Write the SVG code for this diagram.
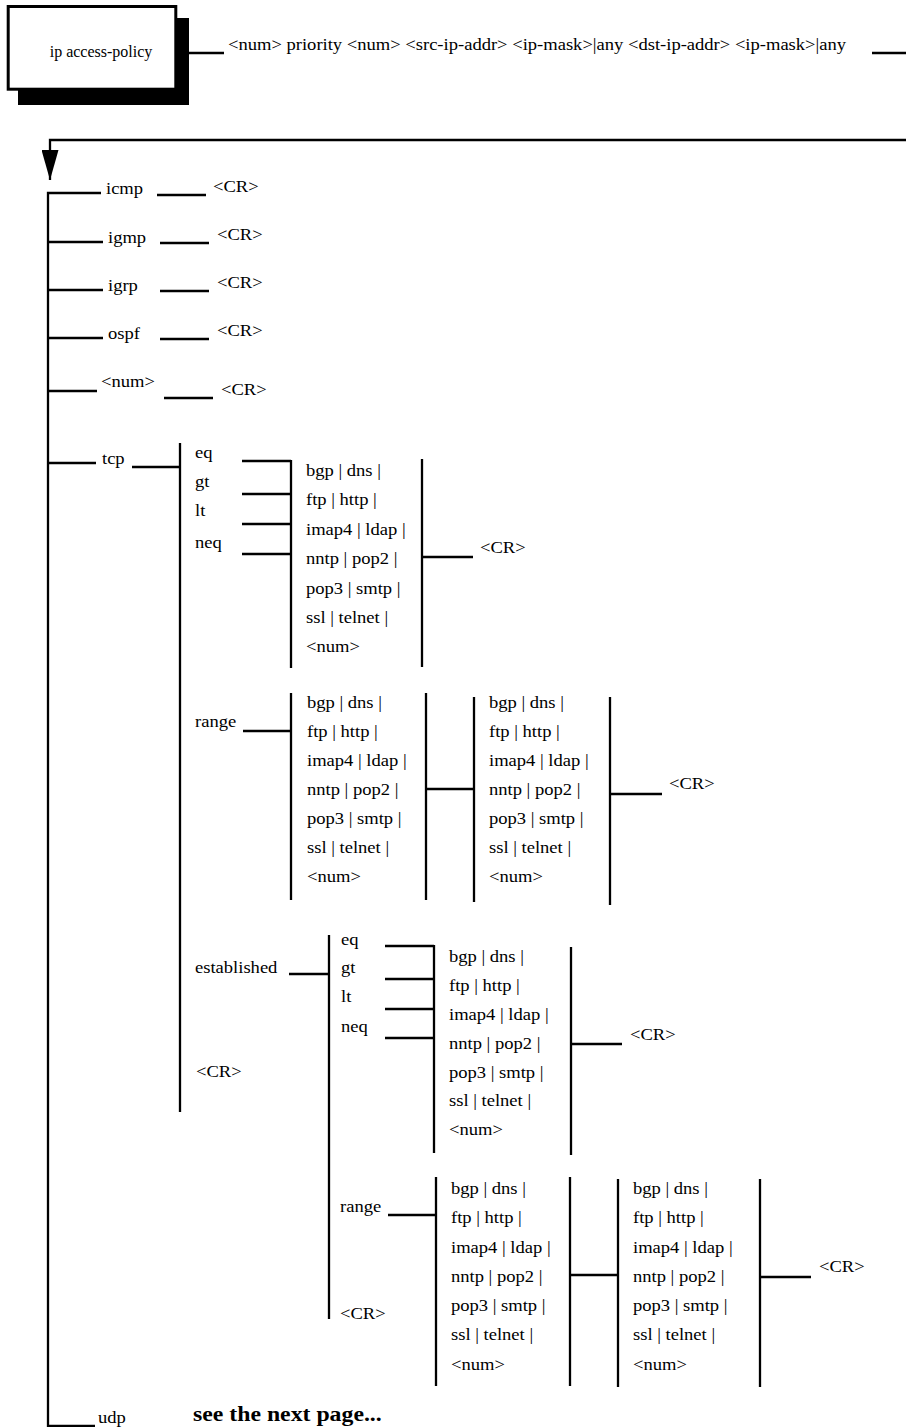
<svg xmlns="http://www.w3.org/2000/svg" width="906" height="1427" viewBox="0 0 906 1427">
<style>
text { font-family: "Liberation Serif", "Times New Roman", serif; font-size: 16px; fill: #000; }
.s { transform-box: fill-box; transform-origin: 0% 50%; transform: scaleX(1.16); }
.b { font-weight: bold; font-size: 20.5px; }
.c line, .c polyline { stroke: #000; stroke-width: 2.3; fill: none; }
</style>
<defs>
<marker id="arr" markerUnits="userSpaceOnUse" viewBox="0 0 30 17" markerWidth="30" markerHeight="17" refX="30" refY="8.5" orient="auto">
<path d="M0,0 L30,8.5 L0,17 z" fill="#000"/>
</marker>
</defs>
<rect width="906" height="1427" fill="#fff"/>

<g id="node-ip-access-policy">
<rect x="18" y="18" width="171" height="87" fill="#000"/>
<rect x="8.2" y="6.5" width="167.6" height="82.7" fill="#fff" stroke="#000" stroke-width="3"/>
<text x="101" y="57" text-anchor="middle">ip access-policy</text>
</g>

<g id="node-args"><text class="s" x="228" y="50">&lt;num&gt; priority &lt;num&gt; &lt;src-ip-addr&gt; &lt;ip-mask&gt;|any &lt;dst-ip-addr&gt; &lt;ip-mask&gt;|any</text></g>

<g id="node-icmp"><text class="s" x="106" y="194">icmp</text><text class="s" x="213" y="192">&lt;CR&gt;</text></g>
<g id="node-igmp"><text class="s" x="108" y="243">igmp</text><text class="s" x="217" y="240">&lt;CR&gt;</text></g>
<g id="node-igrp"><text class="s" x="108" y="291">igrp</text><text class="s" x="217" y="288.5">&lt;CR&gt;</text></g>
<g id="node-ospf"><text class="s" x="108" y="339">ospf</text><text class="s" x="217" y="336.5">&lt;CR&gt;</text></g>
<g id="node-num"><text class="s" x="101" y="387">&lt;num&gt;</text><text class="s" x="221" y="395">&lt;CR&gt;</text></g>

<g id="node-tcp"><text class="s" x="102" y="464">tcp</text></g>
<g id="node-tcp-ops">
<text class="s" x="195" y="458">eq</text>
<text class="s" x="195" y="487">gt</text>
<text class="s" x="195" y="516">lt</text>
<text class="s" x="195" y="548">neq</text>
</g>
<g id="node-tcp-ports">
<text class="s" x="306" y="476">bgp | dns |</text>
<text class="s" x="306" y="505.4">ftp | http |</text>
<text class="s" x="306" y="534.8">imap4 | ldap |</text>
<text class="s" x="306" y="564.2">nntp | pop2 |</text>
<text class="s" x="306" y="593.6">pop3 | smtp |</text>
<text class="s" x="306" y="623">ssl | telnet |</text>
<text class="s" x="306" y="652.4">&lt;num&gt;</text>
</g>
<g id="node-tcp-cr"><text class="s" x="480" y="553">&lt;CR&gt;</text></g>

<g id="node-range"><text class="s" x="195" y="727">range</text></g>
<g id="node-range-from">
<text class="s" x="307" y="708">bgp | dns |</text>
<text class="s" x="307" y="737">ftp | http |</text>
<text class="s" x="307" y="766">imap4 | ldap |</text>
<text class="s" x="307" y="795">nntp | pop2 |</text>
<text class="s" x="307" y="824">pop3 | smtp |</text>
<text class="s" x="307" y="853">ssl | telnet |</text>
<text class="s" x="307" y="882">&lt;num&gt;</text>
</g>
<g id="node-range-to">
<text class="s" x="489" y="708">bgp | dns |</text>
<text class="s" x="489" y="737">ftp | http |</text>
<text class="s" x="489" y="766">imap4 | ldap |</text>
<text class="s" x="489" y="795">nntp | pop2 |</text>
<text class="s" x="489" y="824">pop3 | smtp |</text>
<text class="s" x="489" y="853">ssl | telnet |</text>
<text class="s" x="489" y="882">&lt;num&gt;</text>
</g>
<g id="node-range-cr"><text class="s" x="669" y="789">&lt;CR&gt;</text></g>

<g id="node-established"><text class="s" x="195" y="973">established</text></g>
<g id="node-tcp-cr2"><text class="s" x="196" y="1077">&lt;CR&gt;</text></g>
<g id="node-est-ops">
<text class="s" x="341" y="945">eq</text>
<text class="s" x="341" y="973">gt</text>
<text class="s" x="341" y="1002">lt</text>
<text class="s" x="341" y="1032">neq</text>
</g>
<g id="node-est-ports">
<text class="s" x="449" y="962">bgp | dns |</text>
<text class="s" x="449" y="990.9">ftp | http |</text>
<text class="s" x="449" y="1019.8">imap4 | ldap |</text>
<text class="s" x="449" y="1048.7">nntp | pop2 |</text>
<text class="s" x="449" y="1077.6">pop3 | smtp |</text>
<text class="s" x="449" y="1106.5">ssl | telnet |</text>
<text class="s" x="449" y="1135.4">&lt;num&gt;</text>
</g>
<g id="node-est-cr"><text class="s" x="630" y="1040">&lt;CR&gt;</text></g>

<g id="node-est-range"><text class="s" x="340" y="1212">range</text></g>
<g id="node-est-cr2"><text class="s" x="340" y="1319">&lt;CR&gt;</text></g>
<g id="node-est-range-from">
<text class="s" x="451" y="1194">bgp | dns |</text>
<text class="s" x="451" y="1223.3">ftp | http |</text>
<text class="s" x="451" y="1252.6">imap4 | ldap |</text>
<text class="s" x="451" y="1281.9">nntp | pop2 |</text>
<text class="s" x="451" y="1311.2">pop3 | smtp |</text>
<text class="s" x="451" y="1340.5">ssl | telnet |</text>
<text class="s" x="451" y="1369.8">&lt;num&gt;</text>
</g>
<g id="node-est-range-to">
<text class="s" x="633" y="1194">bgp | dns |</text>
<text class="s" x="633" y="1223.3">ftp | http |</text>
<text class="s" x="633" y="1252.6">imap4 | ldap |</text>
<text class="s" x="633" y="1281.9">nntp | pop2 |</text>
<text class="s" x="633" y="1311.2">pop3 | smtp |</text>
<text class="s" x="633" y="1340.5">ssl | telnet |</text>
<text class="s" x="633" y="1369.8">&lt;num&gt;</text>
</g>
<g id="node-est-range-cr"><text class="s" x="819" y="1272">&lt;CR&gt;</text></g>

<g id="node-udp"><text class="s" x="98" y="1423">udp</text></g>
<g id="node-note"><text class="s b" x="193" y="1421">see the next page...</text></g>

<g id="connectors" class="c">
<line x1="189" y1="53" x2="224" y2="53"/>
<line x1="872" y1="53" x2="906" y2="53"/>
<polyline points="906,140 50,140 50,180" marker-end="url(#arr)"/>
<polyline points="101,193 48,193 48,1426 95,1426"/>
<line x1="157" y1="195" x2="206" y2="195"/>
<line x1="48" y1="242" x2="103" y2="242"/>
<line x1="160" y1="243" x2="209" y2="243"/>
<line x1="48" y1="290" x2="103" y2="290"/>
<line x1="160" y1="291" x2="209" y2="291"/>
<line x1="48" y1="338" x2="103" y2="338"/>
<line x1="160" y1="339" x2="209" y2="339"/>
<line x1="48" y1="391" x2="97" y2="391"/>
<line x1="164" y1="398" x2="213" y2="398"/>
<line x1="48" y1="463" x2="96" y2="463"/>
<line x1="132" y1="467" x2="180" y2="467"/>
<line x1="180" y1="443" x2="180" y2="1112"/>
<line x1="242" y1="461" x2="291" y2="461"/>
<line x1="242" y1="494" x2="291" y2="494"/>
<line x1="242" y1="524" x2="291" y2="524"/>
<line x1="242" y1="554" x2="291" y2="554"/>
<line x1="291" y1="460" x2="291" y2="668"/>
<line x1="422" y1="459" x2="422" y2="667"/>
<line x1="422" y1="557" x2="473" y2="557"/>
<line x1="243" y1="731" x2="291" y2="731"/>
<line x1="291" y1="693" x2="291" y2="900"/>
<line x1="426" y1="693" x2="426" y2="900"/>
<line x1="426" y1="789" x2="474" y2="789"/>
<line x1="474" y1="697" x2="474" y2="902"/>
<line x1="610" y1="697" x2="610" y2="905"/>
<line x1="610" y1="794" x2="662" y2="794"/>
<line x1="289" y1="974" x2="329" y2="974"/>
<line x1="329" y1="935" x2="329" y2="1319"/>
<line x1="385" y1="946" x2="434" y2="946"/>
<line x1="385" y1="979" x2="434" y2="979"/>
<line x1="385" y1="1009" x2="434" y2="1009"/>
<line x1="385" y1="1038" x2="434" y2="1038"/>
<line x1="434" y1="945" x2="434" y2="1153"/>
<line x1="571" y1="947" x2="571" y2="1155"/>
<line x1="571" y1="1044" x2="622" y2="1044"/>
<line x1="388" y1="1215" x2="436" y2="1215"/>
<line x1="436" y1="1177" x2="436" y2="1386"/>
<line x1="570" y1="1177" x2="570" y2="1386"/>
<line x1="570" y1="1275" x2="618" y2="1275"/>
<line x1="618" y1="1179" x2="618" y2="1387"/>
<line x1="760" y1="1179" x2="760" y2="1387"/>
<line x1="760" y1="1277" x2="811" y2="1277"/>
</g>
</svg>
